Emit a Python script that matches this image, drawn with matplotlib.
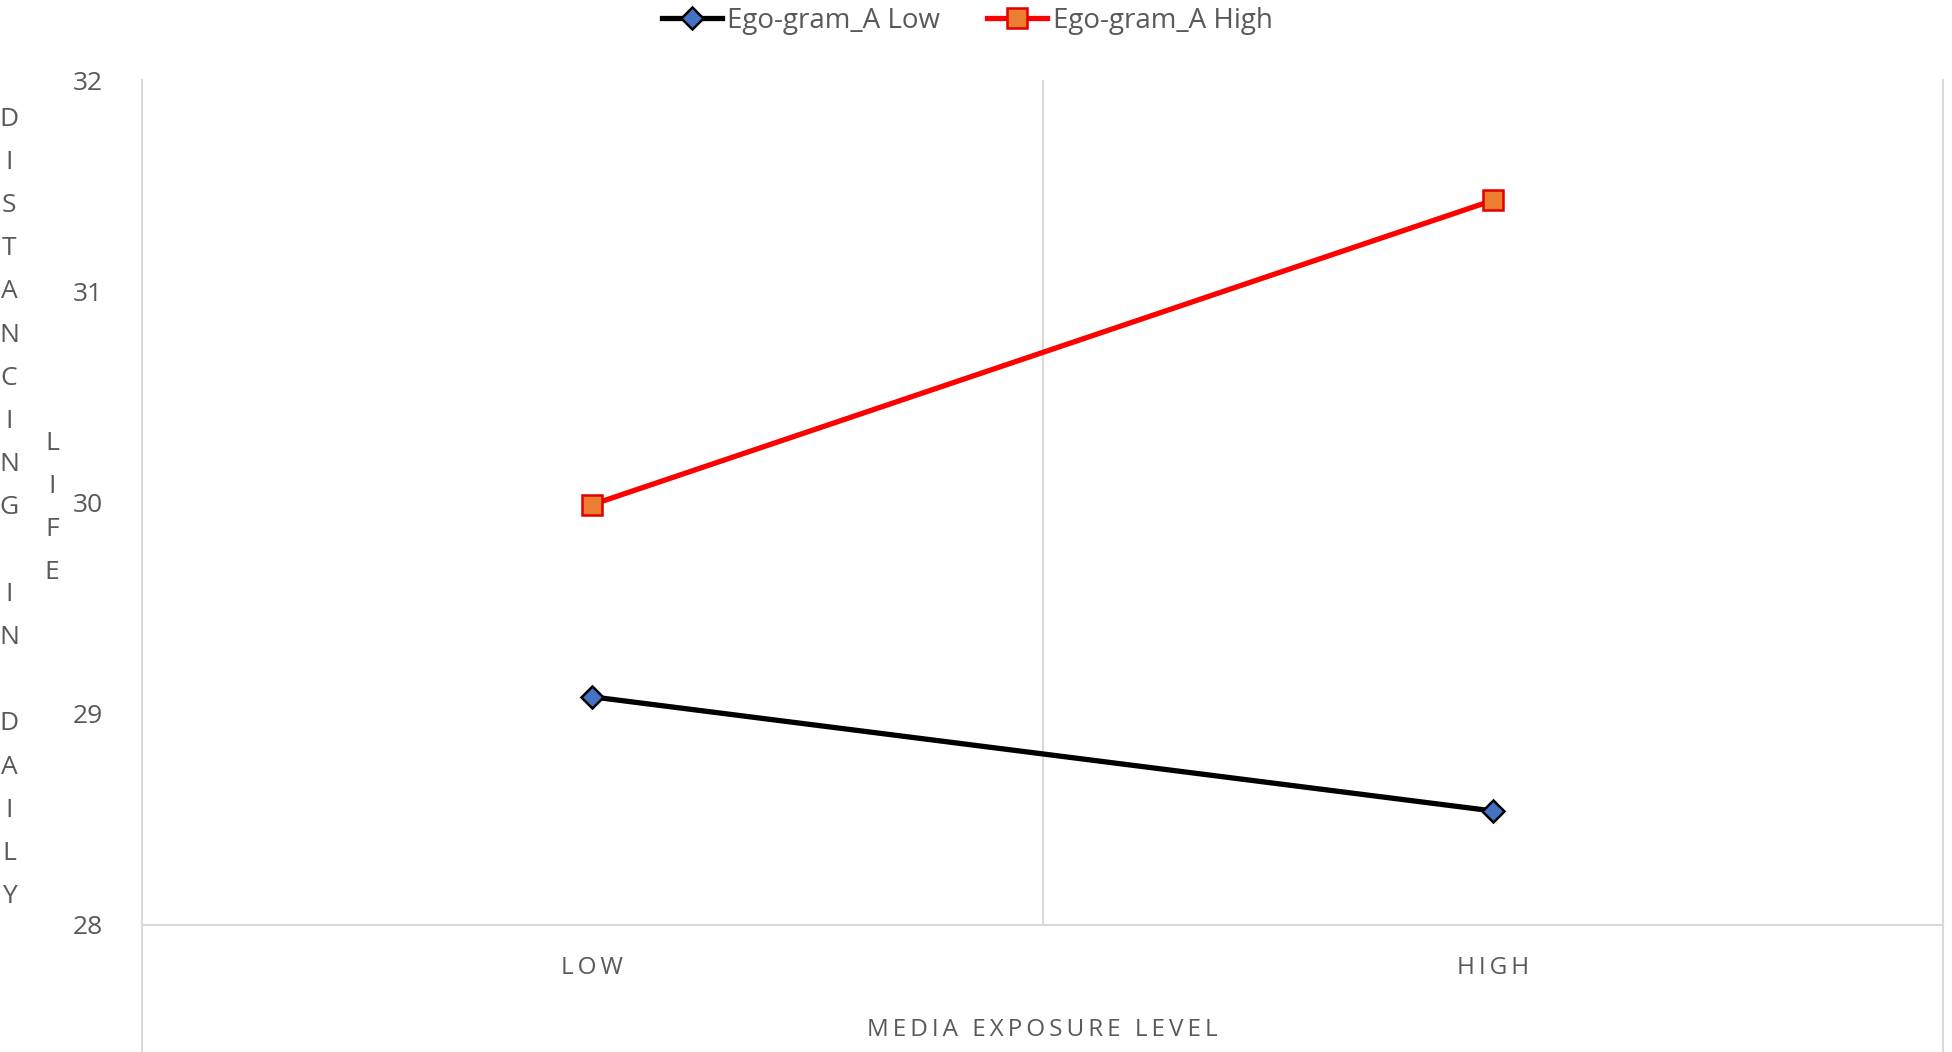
import matplotlib
matplotlib.use("Agg")
import matplotlib.pyplot as plt
import matplotlib.transforms as mtransforms

# data
categories = ["LOW", "HIGH"]
ego_low = [29.08, 28.54]
ego_high = [29.99, 31.43]
series_names = ["Ego-gram_A Low", "Ego-gram_A High"]
y_ticks = [28, 29, 30, 31, 32]
x_title = "MEDIA EXPOSURE LEVEL"
y_title_cols = ["DISTANCING IN DAILY", "LIFE"]

plt.rcParams["font.family"] = ["Open Sans", "DejaVu Sans"]
txt = "#595959"
grid = "#D9D9D9"


def spaced(s, sep="\u2009"):
    return sep.join(list(s))


fig = plt.figure(figsize=(19.52, 10.52), dpi=100)
W, H = 1952, 1052
left, right, top, bottom = 142, 1943, 80, 925
ax = fig.add_axes([left / W, 1 - bottom / H, (right - left) / W, (bottom - top) / H])

xs = [i + 0.5 for i in range(len(categories))]
ax.plot(xs, ego_low, color="black", lw=3.8, marker="D", markersize=11,
        markerfacecolor="#4472C4", markeredgecolor="black", markeredgewidth=1.8,
        label=series_names[0], zorder=3)
ax.plot(xs, ego_high, color="#FF0000", lw=3.8, marker="s", markersize=14,
        markerfacecolor="#ED7D31", markeredgecolor="#E00000", markeredgewidth=1.8,
        label=series_names[1], zorder=3)

ax.set_xlim(0, len(categories))
ax.set_ylim(y_ticks[0], y_ticks[-1])
ax.set_yticks(y_ticks)
ax.set_xticks(xs)
ax.set_xticklabels([spaced(c) for c in categories])
ax.tick_params(axis="y", length=0, pad=28, labelsize=19, labelcolor=txt)
ax.tick_params(axis="x", length=0, pad=22, labelsize=17.5, labelcolor=txt)

for s in ["top", "right", "left"]:
    ax.spines[s].set_visible(False)
ax.spines["bottom"].set_color(grid)
ax.spines["bottom"].set_linewidth(1.5)

# vertical category lines
ax.axvline(1, color=grid, lw=1.5, zorder=1)
trans = mtransforms.blended_transform_factory(ax.transData, fig.transFigure)
for xv in [0, len(categories)]:
    ax.plot([xv, xv], [0, 1 - top / H], transform=trans, color=grid, lw=1.5,
            clip_on=False, zorder=1)

fig.text((left + right) / 2 / W, 1 - 1030 / H, spaced(x_title), ha="center", va="center",
         fontsize=17.5, color=txt)

# stacked y title
step = 43.2
col_x = [9, 52]
center_y = 508
for cx, word in zip(col_x, y_title_cols):
    n = len(word)
    for i, ch in enumerate(word):
        yy = center_y + (i - (n - 1) / 2) * step
        fig.text(cx / W, 1 - yy / H, ch, ha="center", va="center", fontsize=19, color=txt)

fig.legend(loc="upper center", bbox_to_anchor=(0.4955, 1.017), ncol=2, frameon=False,
           fontsize=20, labelcolor=txt, handlelength=2.15, handletextpad=0.2,
           columnspacing=1.7, numpoints=1)

fig.savefig("out.png", dpi=100, facecolor="white")
